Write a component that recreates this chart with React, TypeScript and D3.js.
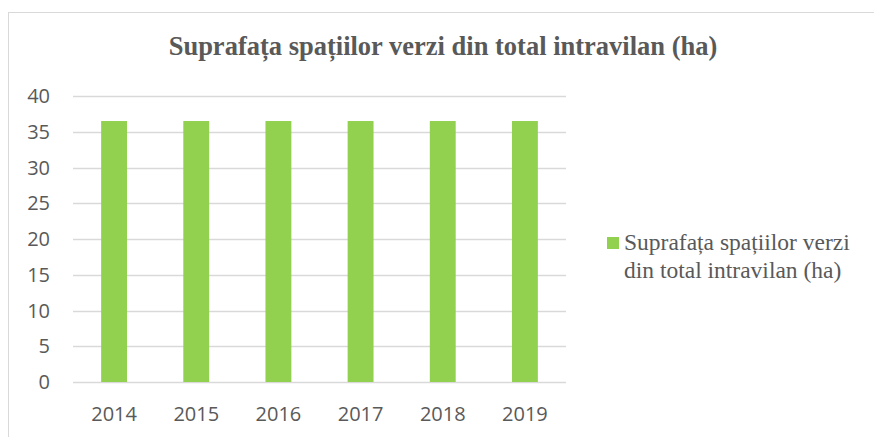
import React, { useEffect, useRef } from "react";
import * as d3 from "d3";

const years = ["2014", "2015", "2016", "2017", "2018", "2019"];
const values = [36.5, 36.5, 36.5, 36.5, 36.5, 36.5];
const yTicks = [0, 5, 10, 15, 20, 25, 30, 35, 40];
const title = "Suprafața spațiilor verzi din total intravilan (ha)";
const legendLines = ["Suprafața spațiilor verzi", "din total intravilan (ha)"];

const serif = "'Liberation Serif', 'Times New Roman', 'DejaVu Serif', serif";
const sans = "'Open Sans', sans-serif";

const App = () => {
  const svgRef = useRef<SVGSVGElement>(null);

  useEffect(() => {
    const width = 874;
    const height = 437;
    const margin = { top: 96, right: 308, bottom: 55, left: 73 };

    const svg = d3.select(svgRef.current);
    svg.selectAll("*").remove();

    // chart area border
    svg
      .append("rect")
      .attr("x", 8.5)
      .attr("y", 12.5)
      .attr("width", width)
      .attr("height", height)
      .attr("fill", "#fff")
      .attr("stroke", "#d9d9d9")
      .attr("stroke-width", 1);

    const x = d3
      .scaleBand()
      .domain(years)
      .range([margin.left, width - margin.right])
      .paddingInner(0.685)
      .paddingOuter(0.3425);

    const y = d3
      .scaleLinear()
      .domain([0, 40])
      .range([height - margin.bottom, margin.top]);

    // gridlines
    svg
      .append("g")
      .selectAll("line")
      .data(yTicks)
      .join("line")
      .attr("x1", margin.left)
      .attr("x2", width - margin.right)
      .attr("y1", (d) => Math.round(y(d)) + 0.5)
      .attr("y2", (d) => Math.round(y(d)) + 0.5)
      .attr("stroke", "#d9d9d9")
      .attr("stroke-width", 1.5);

    // y labels
    svg
      .append("g")
      .selectAll("text")
      .data(yTicks)
      .join("text")
      .attr("x", 50)
      .attr("y", (d) => y(d) + 7)
      .attr("text-anchor", "end")
      .attr("fill", "#595959")
      .attr("font-family", sans)
      .attr("font-size", 20)
      .text((d) => d);

    // bars
    svg
      .append("g")
      .selectAll("rect")
      .data(values)
      .join("rect")
      .attr("x", (d, i) => x(years[i]) as number)
      .attr("width", x.bandwidth())
      .attr("y", (d) => y(d))
      .attr("height", (d) => y(0) - y(d))
      .attr("fill", "#92d050");

    // x labels
    svg
      .append("g")
      .selectAll("text")
      .data(years)
      .join("text")
      .attr("x", (d) => (x(d) as number) + x.bandwidth() / 2)
      .attr("y", 421)
      .attr("text-anchor", "middle")
      .attr("fill", "#595959")
      .attr("font-family", sans)
      .attr("font-size", 20)
      .text((d) => d);

    // title
    svg
      .append("text")
      .attr("x", 443)
      .attr("y", 55)
      .attr("text-anchor", "middle")
      .attr("fill", "#595959")
      .attr("font-family", serif)
      .attr("font-weight", "bold")
      .attr("font-size", 26.5)
      .text(title);

    // legend
    svg
      .append("rect")
      .attr("x", 607)
      .attr("y", 237)
      .attr("width", 12)
      .attr("height", 12)
      .attr("fill", "#92d050");

    svg
      .append("g")
      .selectAll("text")
      .data(legendLines)
      .join("text")
      .attr("x", 624)
      .attr("y", (d, i) => 250 + i * 28)
      .attr("fill", "#595959")
      .attr("font-family", serif)
      .attr("font-size", 23.5)
      .text((d) => d);
  }, []);

  return (
    <svg
      ref={svgRef}
      width={874}
      height={437}
      style={{ position: "absolute", left: 0, top: 0, background: "#fff" }}
    />
  );
};

export default App;
